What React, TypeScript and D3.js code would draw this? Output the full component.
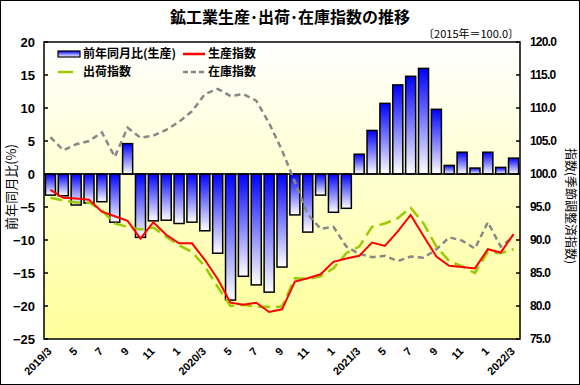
import React from 'react';
import * as d3 from 'd3';

const months = [
  '2019/3', '2019/4', '2019/5', '2019/6', '2019/7', '2019/8', '2019/9', '2019/10', '2019/11', '2019/12',
  '2020/1', '2020/2', '2020/3', '2020/4', '2020/5', '2020/6', '2020/7', '2020/8', '2020/9', '2020/10',
  '2020/11', '2020/12', '2021/1', '2021/2', '2021/3', '2021/4', '2021/5', '2021/6', '2021/7', '2021/8',
  '2021/9', '2021/10', '2021/11', '2021/12', '2022/1', '2022/2', '2022/3',
];

// month -> label shown on the x axis (every other month)
const xTickLabels: Record<string, string> = {
  '2019/3': '2019/3', '2019/5': '5', '2019/7': '7', '2019/9': '9', '2019/11': '11',
  '2020/1': '1', '2020/3': '2020/3', '2020/5': '5', '2020/7': '7', '2020/9': '9', '2020/11': '11',
  '2021/1': '1', '2021/3': '2021/3', '2021/5': '5', '2021/7': '7', '2021/9': '9', '2021/11': '11',
  '2022/1': '1', '2022/3': '2022/3',
};

// 前年同月比(生産) %
const yoyProduction = [
  -3.2, -3.3, -4.7, -4.4, -4.2, -7.3, 4.6, -9.6, -7.1, -7.0,
  -7.5, -7.3, -8.6, -12.0, -19.1, -15.5, -16.8, -17.9, -14.1, -6.2,
  -8.8, -3.2, -5.8, -5.2, 3.0, 6.6, 10.7, 13.5, 14.8, 16.0,
  9.8, 1.3, 3.3, 0.9, 3.3, 1.0, 2.4,
];

// 生産指数
const productionIndex = [
  97.6, 96.4, 96.3, 96.1, 94.3, 93.6, 92.9, 90.2, 92.7, 90.8,
  89.5, 89.5, 87.0, 84.1, 80.5, 80.2, 80.5, 79.1, 79.5, 83.7,
  84.2, 84.8, 86.7, 87.2, 87.6, 89.6, 89.1, 91.3, 93.8, 90.6,
  87.5, 86.1, 85.9, 85.7, 88.6, 88.1, 90.9,
];

// 出荷指数
const shipmentIndex = [
  96.4, 96.0, 95.7, 95.7, 94.5, 92.5, 92.0, 91.6, 91.9, 90.5,
  89.2, 88.2, 86.0, 82.9, 80.0, 80.2, 79.9, 79.9, 79.9, 84.2,
  84.1, 84.5, 85.7, 88.0, 89.0, 92.0, 92.5, 93.3, 94.9, 92.5,
  89.0, 86.8, 86.0, 85.0, 88.2, 88.0, 88.6,
];

// 在庫指数
const inventoryIndex = [
  105.6, 103.6, 104.5, 105.0, 106.3, 102.6, 107.0, 105.5, 105.8, 106.7,
  107.9, 109.5, 112.1, 112.9, 111.8, 112.1, 111.1, 107.7, 103.6, 98.8,
  93.9, 91.7, 92.0, 89.0, 87.9, 87.4, 87.6, 86.8, 87.5, 87.3,
  88.6, 90.4, 89.9, 88.7, 92.7, 89.0, 90.5,
];

const leftTicks = [20, 15, 10, 5, 0, -5, -10, -15, -20, -25];
const rightTicks = [120, 115, 110, 105, 100, 95, 90, 85, 80, 75];

const W = 580;
const H = 385;
const plot = { left: 44, right: 520, top: 42, bottom: 339 };

const jp = '"Noto Sans CJK JP", sans-serif';
const num = '"Liberation Sans", Arial, sans-serif';

const App = () => {
  const x = d3.scaleBand<string>()
    .domain(months)
    .range([plot.left, plot.right])
    .paddingInner(0.22)
    .paddingOuter(0.11);
  const yL = d3.scaleLinear().domain([-25, 20]).range([plot.bottom, plot.top]);
  const yR = d3.scaleLinear().domain([75, 120]).range([plot.bottom, plot.top]);
  const cx = (m: string) => (x(m) ?? 0) + x.bandwidth() / 2;

  const line = d3.line<number>()
    .x((_, i) => cx(months[i]))
    .y(d => yR(d));

  return (
    <svg width={W} height={H} style={{ position: 'absolute', left: 0, top: 0, background: '#fff' }}>
      <defs>
        <linearGradient id="plotBg" x1="0" y1="0" x2="0" y2="1">
          <stop offset="0" stopColor="#ffffff" />
          <stop offset="1" stopColor="#ffff99" />
        </linearGradient>
        <linearGradient id="barFill" x1="0" y1="0" x2="0" y2="1">
          <stop offset="0" stopColor="#0000ff" />
          <stop offset="1" stopColor="#ffffff" />
        </linearGradient>
      </defs>

      <rect x={0.5} y={0.5} width={W - 1} height={H - 1} fill="#fff" stroke="#000" />

      {/* title */}
      <text x={290} y={23} textAnchor="middle" fontFamily={jp} fontSize={16} fontWeight="bold">
        鉱工業生産･出荷･在庫指数の推移
      </text>
      <text x={519} y={38} textAnchor="end" fontFamily={jp} fontSize={11}>
        〔2015年＝100.0〕
      </text>

      {/* plot area */}
      <rect x={plot.left} y={plot.top} width={plot.right - plot.left} height={plot.bottom - plot.top} fill="url(#plotBg)" />

      {/* bars */}
      {yoyProduction.map((v, i) => (
        <rect
          key={months[i]}
          x={x(months[i])}
          y={yL(Math.max(0, v))}
          width={x.bandwidth()}
          height={Math.abs(yL(v) - yL(0))}
          fill="url(#barFill)"
          stroke="#000"
          strokeWidth={1.5}
        />
      ))}

      <line x1={plot.left} x2={plot.right} y1={yL(0)} y2={yL(0)} stroke="#000" strokeWidth={1.5} />

      {/* lines */}
      <path d={line(inventoryIndex) ?? ''} fill="none" stroke="#888888" strokeWidth={2.5} strokeDasharray="6,4" />
      <path d={line(shipmentIndex) ?? ''} fill="none" stroke="#99cc00" strokeWidth={2.5} strokeDasharray="12,6" />
      <path d={line(productionIndex) ?? ''} fill="none" stroke="#ff0000" strokeWidth={2} />

      {/* frame */}
      <rect x={plot.left} y={plot.top} width={plot.right - plot.left} height={plot.bottom - plot.top} fill="none" stroke="#000" strokeWidth={1.5} />

      {/* left axis */}
      {leftTicks.map(t => (
        <g key={t}>
          <line x1={plot.left} x2={plot.left + 4} y1={yL(t)} y2={yL(t)} stroke="#000" strokeWidth={1.5} />
          <text x={35} y={yL(t)} dy="0.35em" textAnchor="end" fontFamily={num} fontSize={13} fontWeight="bold">
            {t < 0 ? `−${-t}` : t}
          </text>
        </g>
      ))}
      <text
        transform={`translate(16,187) rotate(-90)`}
        textAnchor="middle"
        fontFamily={jp}
        fontSize={13}
      >
        前年同月比(%)
      </text>

      {/* right axis */}
      {rightTicks.map(t => (
        <g key={t}>
          <line x1={plot.right - 4} x2={plot.right} y1={yR(t)} y2={yR(t)} stroke="#000" strokeWidth={1.5} />
          <text x={530} y={yR(t)} dy="0.35em" fontFamily={num} fontSize={12} fontWeight="bold" letterSpacing={-0.8}>
            {t.toFixed(1)}
          </text>
        </g>
      ))}
      <text
        transform={`translate(566,206) rotate(90)`}
        textAnchor="middle"
        fontFamily={jp}
        fontSize={12}
      >
        指数(季節調整済指数)
      </text>

      {/* x axis labels */}
      {months.filter(m => xTickLabels[m]).map(m => (
        <text
          key={m}
          transform={`translate(${cx(m) + 2},${plot.bottom + 13}) rotate(-45)`}
          textAnchor="end"
          fontFamily={num}
          fontSize={11}
          fontWeight="bold"
        >
          {xTickLabels[m]}
        </text>
      ))}

      {/* legend */}
      <g fontFamily={jp} fontSize={12} fontWeight="bold">
        <rect x={58} y={51} width={22} height={6} fill="url(#barFill)" stroke="#000" strokeWidth={1.2} />
        <text x={83} y={54} dy="0.35em">前年同月比(生産)</text>
        <line x1={183} x2={205} y1={54} y2={54} stroke="#ff0000" strokeWidth={2.5} />
        <text x={208} y={54} dy="0.35em">生産指数</text>
        <line x1={58} x2={73} y1={72} y2={72} stroke="#99cc00" strokeWidth={2.5} />
        <text x={83} y={72} dy="0.35em">出荷指数</text>
        <line x1={183} x2={205} y1={72} y2={72} stroke="#888888" strokeWidth={2.5} strokeDasharray="5,3" />
        <text x={208} y={72} dy="0.35em">在庫指数</text>
      </g>
    </svg>
  );
};

export default App;
